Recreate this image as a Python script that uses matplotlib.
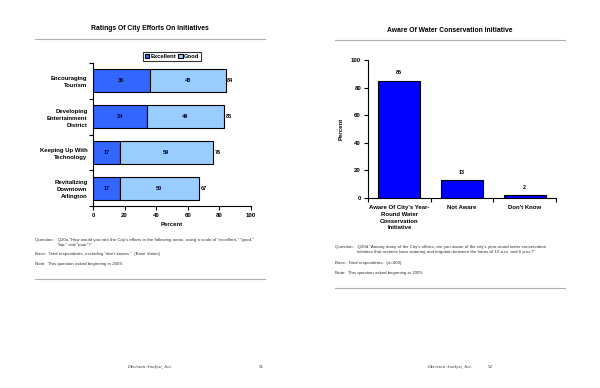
import numpy as np
import matplotlib.pyplot as plt
from matplotlib.ticker import FixedLocator, NullFormatter

plt.rcParams['font.family'] = ['Liberation Sans', 'DejaVu Sans']

# dane - strona 51
inicjatywy = ['Encouraging\nTourism', 'Developing\nEntertainment\nDistrict',
              'Keeping Up With\nTechnology', 'Revitalizing\nDowntown\nArlington']
excellent = [36, 34, 17, 17]
good = [48, 49, 59, 50]
razem = [84, 83, 76, 67]

# dane - strona 52
kategorie = ["Aware Of City's Year-\nRound Water\nConservation\nInitiative",
             'Not Aware', "Don't Know"]
procent = [85, 13, 2]

fig = plt.figure(figsize=(6, 3.88), dpi=100)
fig.patch.set_facecolor('white')


def px(x, y):
    # piksele -> wspolrzedne figury
    return x / 600, 1 - y / 388


def linia(x0, x1, y, kolor='#b0b0b0'):
    fig.add_artist(plt.Line2D([x0 / 600, x1 / 600], [1 - y / 388, 1 - y / 388],
                              color=kolor, lw=0.8, transform=fig.transFigure))


def tekst(x, y, s, **kw):
    fig.text(*px(x, y), s, **kw)


###############################################################################
# strona 51 - wykres poziomy
tekst(150, 28, 'Ratings Of City Efforts On Initiatives', ha='center', va='center',
      fontsize=4.9, fontweight='bold')
linia(35, 265, 39)

ax1 = fig.add_axes([93 / 600, 1 - 206 / 388, 158 / 600, 143 / 388])
y = np.arange(len(inicjatywy))
b1 = ax1.barh(y, excellent, height=0.64, color='#3366ff', edgecolor='black',
              lw=0.8, label='Excellent')
b2 = ax1.barh(y, good, left=excellent, height=0.64, color='#99ccff',
              edgecolor='black', lw=0.8, label='Good')
for i in range(len(inicjatywy)):
    ax1.text(excellent[i] / 2, y[i], str(excellent[i]), ha='center', va='center',
             fontsize=4, fontweight='bold', color='#000022')
    ax1.text(excellent[i] + good[i] / 2, y[i], str(good[i]), ha='center',
             va='center', fontsize=4, fontweight='bold', color='#000022')
    ax1.text(razem[i] + 1, y[i], str(razem[i]), ha='left', va='center',
             fontsize=4, fontweight='bold')
ax1.set_xlim(0, 100)
ax1.set_ylim(3.5, -0.5)
ax1.set_xticks([0, 20, 40, 60, 80, 100])
ax1.set_yticks(y)
ax1.set_yticklabels(inicjatywy, fontsize=4.3, fontweight='bold', linespacing=1.5)
ax1.yaxis.set_minor_locator(FixedLocator([-0.5, 0.5, 1.5, 2.5, 3.5]))
ax1.yaxis.set_minor_formatter(NullFormatter())
ax1.tick_params(axis='y', which='major', length=0, pad=4)
ax1.tick_params(axis='y', which='minor', length=3, width=0.8, direction='out')
ax1.tick_params(axis='x', length=3, width=0.8, labelsize=4.3, pad=2)
for t in ax1.get_xticklabels():
    t.set_fontweight('bold')
ax1.set_xlabel('Percent', fontsize=4.3, fontweight='bold', labelpad=3)
for s in ['top', 'right']:
    ax1.spines[s].set_visible(False)
for s in ['left', 'bottom']:
    ax1.spines[s].set_linewidth(0.8)
leg = ax1.legend(loc='lower center', bbox_to_anchor=(0.5, 1.0), ncol=2,
                 fontsize=4.2, frameon=True, fancybox=False, handlelength=0.8,
                 handleheight=0.8, handletextpad=0.2, columnspacing=0.3,
                 borderpad=0.25, borderaxespad=0.4)
leg.get_frame().set_edgecolor('black')
leg.get_frame().set_linewidth(0.8)
for t in leg.get_texts():
    t.set_fontweight('bold')

mala = dict(fontsize=3.2, va='center', ha='left', color='#333333')
tekst(35, 240, 'Question:   Q20a "How would you rate the City\'s efforts in the following areas, '
      'using a scale of "excellent," "good,"', **mala)
tekst(57, 245, '"fair," and "poor"?"', **mala)
tekst(35, 254, 'Base:  Total respondents, excluding "don\'t knows."  (Base Varies)', **mala)
tekst(35, 264, 'Note:  This question asked beginning in 2009.', **mala)
linia(35, 265, 279)

tekst(150, 367, 'Decision Analyst, Inc.', ha='center', va='center', fontsize=3.7,
      fontstyle='italic', family=['Liberation Serif', 'DejaVu Serif'], color='#333333')
tekst(261, 367, '51', ha='center', va='center', fontsize=3.7,
      family=['Liberation Serif', 'DejaVu Serif'], color='#333333')

###############################################################################
# strona 52 - wykres slupkowy
tekst(450, 30, 'Aware Of Water Conservation Initiative', ha='center', va='center',
      fontsize=4.9, fontweight='bold')
linia(335, 565, 40)

ax2 = fig.add_axes([368 / 600, 1 - 198 / 388, 188 / 600, 138 / 388])
x = np.arange(len(kategorie))
ax2.bar(x, procent, width=0.67, color='#0000ff', edgecolor='black', lw=0.8)
for i in range(len(kategorie)):
    ax2.text(x[i], procent[i] + 4, str(procent[i]), ha='center', va='bottom',
             fontsize=4, fontweight='bold')
ax2.set_xlim(-0.5, 2.5)
ax2.set_ylim(0, 100)
ax2.set_yticks([0, 20, 40, 60, 80, 100])
ax2.set_xticks(x)
ax2.set_xticklabels(kategorie, fontsize=4.3, fontweight='bold', linespacing=1.45,
                    va='top')
ax2.xaxis.set_minor_locator(FixedLocator([-0.5, 0.5, 1.5, 2.5]))
ax2.xaxis.set_minor_formatter(NullFormatter())
ax2.tick_params(axis='x', which='major', length=0, pad=5)
ax2.tick_params(axis='x', which='minor', length=3, width=0.8, direction='out')
ax2.tick_params(axis='y', length=3, width=0.8, labelsize=4.3, pad=2)
for t in ax2.get_yticklabels():
    t.set_fontweight('bold')
ax2.set_ylabel('Percent', fontsize=4.3, fontweight='bold', labelpad=5)
for s in ['top', 'right']:
    ax2.spines[s].set_visible(False)
for s in ['left', 'bottom']:
    ax2.spines[s].set_linewidth(0.8)

tekst(335, 247, 'Question:   Q20d "Among many of the City\'s efforts, are you aware of the city\'s '
      'year-round water conservation', **mala)
tekst(357, 252, 'initiative that restricts lawn watering and irrigation between the hours of '
      '10 a.m. and 6 p.m.?"', **mala)
tekst(335, 263, 'Base:  Total respondents.  (n=400)', **mala)
tekst(335, 273, 'Note:  This question asked beginning in 2009.', **mala)
linia(335, 565, 288)

tekst(450, 367, 'Decision Analyst, Inc.', ha='center', va='center', fontsize=3.7,
      fontstyle='italic', family=['Liberation Serif', 'DejaVu Serif'], color='#333333')
tekst(490, 367, '52', ha='center', va='center', fontsize=3.7,
      family=['Liberation Serif', 'DejaVu Serif'], color='#333333')

fig.savefig('out.png', dpi=100, facecolor='white')
